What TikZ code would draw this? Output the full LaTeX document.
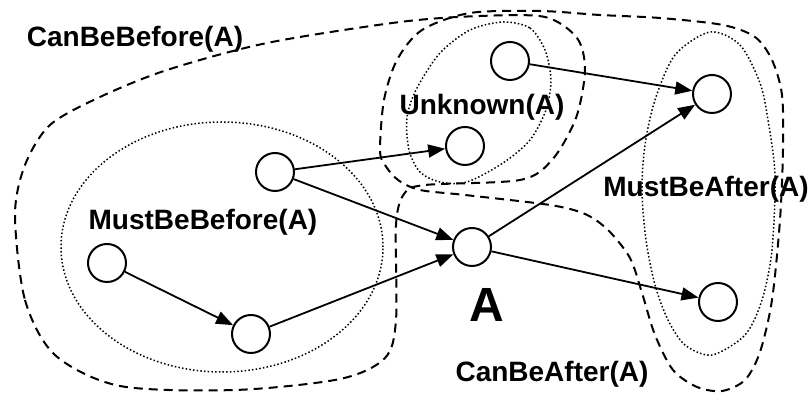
\documentclass[tikz,border=0pt]{standalone}
\usepackage{fontspec}
\setmainfont{Liberation Sans}
\usetikzlibrary{arrows.meta}

\begin{document}
\begin{tikzpicture}[x=0.5pt, y=-0.5pt,
    vertex/.style={draw, circle, line width=1pt, minimum size=19pt, inner sep=0pt, fill=white},
    edge/.style={line width=0.9pt, -{Triangle[length=8.5pt, width=6.5pt]}},
    setname/.style={font=\fontsize{14}{16}\selectfont\bfseries, inner sep=0pt},
    mustset/.style={line width=0.75pt, dash pattern=on 0.75pt off 1.1pt},
    canset/.style={line width=1pt, dash pattern=on 4.5pt off 3pt}]
    \useasboundingbox (0,0) rectangle (811,394);
    % Sets
    \draw[mustset] (222,247) ellipse [x radius=80.5pt, y radius=62.5pt]; % MustBeBefore
    \draw[mustset] plot[smooth cycle] coordinates {(503,22) (530,28) (545,50) (551,80) (546,110) (530,140) (503,163) (467,182) (440,182) (420,172) (409,150) (407,117) (417,88) (440,53) (470,30)}; % Unknown
    \draw[mustset] plot[smooth cycle] coordinates {(710,32) (740,45) (760,83) (768,120) (775,175) (772,250) (762,300) (745,335) (712,355) (685,345) (668,320) (655,285) (646,240) (642,190) (645,145) (655,100) (675,55)}; % MustBeAfter
    \draw[canset] plot[smooth cycle] coordinates {(15,215) (25,300) (55,355) (120,386) (235,390) (340,379) (385,358) (396,320) (396,225) (404,194) (425,185) (520,180) (552,160) (576,118) (585,70) (577,38) (545,17) (480,16) (400,22) (267,43) (167,70) (100,97) (50,125) (25,165)}; % CanBeBefore
    \draw[canset] plot[smooth cycle] coordinates {(380,150) (384,100) (397,60) (422,30) (470,13) (540,11) (600,15) (660,18) (723,25) (755,37) (772,60) (782,95) (783,150) (780,220) (772,300) (760,352) (745,380) (722,391) (697,387) (673,370) (655,335) (642,293) (630,258) (608,230) (585,214) (550,205) (465,195) (420,190) (398,180) (385,165)}; % CanBeAfter
    % Labels
    \node[setname] (canbefore) at (135,39) {CanBeBefore(A)};
    \node[setname] (unknown) at (482,107) {Unknown(A)};
    \node[setname] (mustbefore) at (203,222) {MustBeBefore(A)};
    \node[setname] (mustafter) at (706,189) {MustBeAfter(A)};
    \node[setname] (canafter) at (552,374) {CanBeAfter(A)};
    \node[font=\fontsize{24}{28}\selectfont\bfseries, inner sep=0pt] (aname) at (487,305) {A};
    % Nodes
    \node[vertex] (b1) at (275,172) {};
    \node[vertex] (b2) at (107,263) {};
    \node[vertex] (b3) at (251,334) {};
    \node[vertex] (u1) at (510,61) {};
    \node[vertex] (u2) at (465,146) {};
    \node[vertex] (a) at (472,247) {};
    \node[vertex] (f1) at (712,94) {};
    \node[vertex] (f2) at (718,302) {};
    % Edges
    \draw[edge] (b2) -- (b3);
    \draw[edge] (b3) -- (a);
    \draw[edge] (b1) -- (a);
    \draw[edge] (b1) -- (u2);
    \draw[edge] (u1) -- (f1);
    \draw[edge] (a) -- (f1);
    \draw[edge] (a) -- (f2);
\end{tikzpicture}
\end{document}
